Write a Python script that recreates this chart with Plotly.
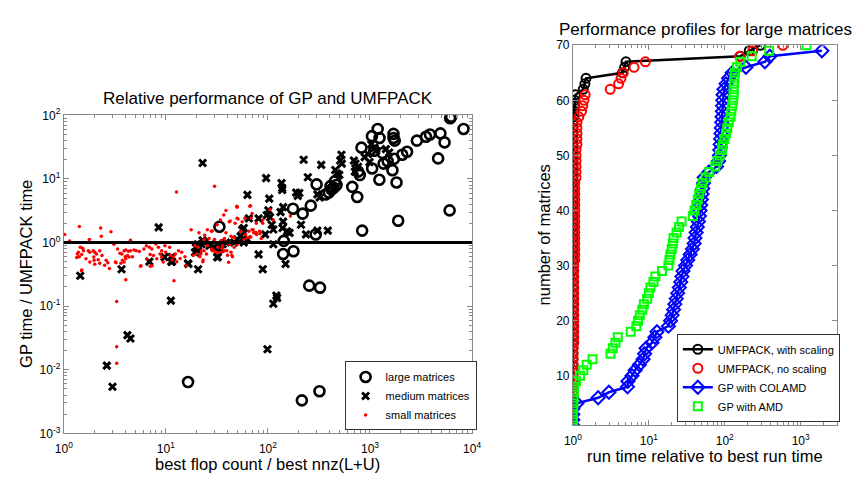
import plotly.graph_objects as go

# ---------------- Left chart data ----------------
large_x = [6240, 6100, 8260, 1190, 1700, 1700, 1045, 1240, 1750, 2880, 3540, 3870, 4900, 5380,
           4650, 825, 1100, 1330, 2070, 2310, 1720, 1360, 1490, 1050, 1660, 767, 795, 1236, 1820,
           670, 750, 454, 441, 395, 367, 420, 470, 410, 300, 263, 219, 176, 294, 838, 1890, 6030,
           143, 141, 178, 254, 324, 33.5, 16.5, 215, 320]
large_y = [95, 90, 61, 61, 51, 44, 47, 44, 40, 40, 46, 50, 52, 37.5,
           21, 31, 27.7, 25.5, 24, 26.7, 20.7, 17.4, 19, 14.6, 13.7, 13, 11.5, 9.7, 8.8,
           7.5, 5.2, 9.2, 7.25, 6.1, 5.7, 6.8, 8.0, 7.7, 8.2, 3.8, 2.85, 3.4, 1.34, 1.54, 2.2, 3.2,
           1.06, 0.66, 0.73, 0.21, 0.195, 1.77, 0.0064, 0.0033, 0.0046]

medium_x = [1.45, 3.68, 6.9, 11.3, 16.5, 20.7, 89, 149, 11.2, 113, 123, 4.2, 4.5, 99, 2.64, 3.0,
            22.9, 8.5, 9.7, 11.4, 19.7, 20.5, 22.9, 31.8, 34.3,
            63, 81, 96,
            224, 333, 136, 138, 138, 189, 203, 196, 246, 305, 457, 474, 500, 525, 511, 530,
            695, 721, 765, 711, 887, 955, 990, 1028, 1107, 1148, 1432, 1542,
            321, 101, 105, 109, 113, 94, 113, 141, 139, 154, 163, 133, 141, 211, 236, 305, 386, 121,
            65, 81, 97.5, 103, 58, 56, 54, 63, 58, 50, 46.7, 38.8, 36, 32.3, 30, 26.8, 24, 22.3,
            20, 20.7, 19.3, 11.5, 16.6, 32.3]
medium_y = [0.30, 0.38, 0.50, 0.50, 0.47, 0.38, 0.38, 0.46, 0.122, 0.109, 0.134, 0.035, 0.031, 0.021, 0.0116, 0.0054,
            17.8, 1.73, 0.59, 0.59, 0.84, 0.94, 1.08, 0.59, 0.79,
            5.6, 0.65, 10.3,
            20, 16.6, 8.6, 7.2, 6.7, 6.1, 6.0, 5.4, 10.6, 5.7, 13.8, 12.2, 11.6, 24, 19.5, 17.4,
            19.5, 17.4, 15.5, 13, 22, 24.6, 18.4, 35, 31, 27.7, 29.4, 26,
            5.1, 3.2, 2.5, 1.9, 1.6, 1.34, 0.94, 2.13, 1.69, 1.5, 1.42, 3.0, 3.6, 1.9, 1.34, 1.54, 1.54, 0.146,
            2.4, 2.4, 2.7, 4.9, 1.69, 1.59, 1.26, 1.12, 1.0, 1.12, 1.0, 1.0, 0.94, 0.89, 0.84, 0.89, 1.0, 0.94,
            0.84, 0.745, 0.70, 0.50, 0.46, 0.59]

small_x = [1.02, 1.14, 1.42, 2.3, 2.33, 2.9, 1.78, 4.5, 3.1,
           1.45, 1.53, 1.39, 1.36, 1.34, 1.42, 1.5, 1.56, 1.74, 1.8, 1.94, 2.01, 2.09, 2.25, 2.37,
           1.97, 1.98, 2.01, 1.8, 1.65, 2.17, 2.25, 2.6, 2.7, 2.8, 2.51, 3.25, 3.2, 3.37, 3.55,
           3.71, 3.9, 4.05, 4.3, 4.5, 4.87, 5.13, 4.0, 4.2, 4.36, 3.76, 3.9, 3.63, 4.05, 4.7, 5.64,
           6.44, 7.3, 7.03, 7.57, 8.46, 9.1, 8.77, 9.1, 8.15, 9.45, 7.03, 9.8, 10.9, 1.5, 4.05,
           12.7, 30, 12, 3.3, 3.3, 3.3, 1.49, 7.3, 5.7, 15.8, 23,
           49.6, 66.5, 38.8, 36.9, 51, 56, 68.5, 89, 41.8, 27.9, 21.1, 17.7, 24, 38.8, 43.5, 47,
           30, 35, 37.5, 54, 60.5, 65, 70, 75, 63, 58.5, 68, 77.5, 83.5,
           19.3, 20.7, 22.3, 20, 18.7, 21.5, 23.2, 25, 27.9, 30, 32.3, 35, 37.5, 40.3, 43.5, 45,
           41.8, 36, 46.8, 50,
           9.95, 11.1, 11.9, 12.4, 13.3, 13.8, 14.3, 12.8, 15.4, 11.5,
           50, 70, 67.5, 50, 72.6, 105, 113, 166, 54,
           25.5, 28.5, 31.8, 34.3, 42.7, 59.5, 47.7, 77, 89, 23.7, 26.5, 29.5, 38.3, 46,
           25.5, 28.5, 31.8, 35.6, 39.6, 44.4, 23.7, 22, 41.2, 77, 83, 71.6, 66.5, 86,
           6.1, 6.9, 5.5, 6.5, 8.0]
small_y = [1.34, 1.06, 1.79, 1.69, 1.26, 1.47, 1.12, 1.09, 0.94,
           0.84, 0.81, 0.70, 0.66, 0.58, 0.60, 0.65, 0.745, 0.745, 0.70, 0.745, 0.70, 0.66, 0.745, 0.625,
           0.59, 0.525, 0.457, 0.495, 0.556, 0.537, 0.47, 0.525, 0.48, 0.39, 0.44, 0.48, 0.495, 0.79, 0.68,
           0.66, 0.745, 0.76, 0.73, 0.745, 0.76, 0.745, 0.60, 0.625, 0.59, 0.525, 0.495, 0.47, 0.556, 0.60, 0.425,
           0.89, 0.79, 0.65, 0.625, 0.84, 0.745, 0.66, 0.59, 0.556, 0.495, 0.425, 0.89, 0.84, 0.37, 0.26,
           6.2, 7.7, 0.25, 0.118, 0.023, 0.0126, 0.36, 0.43, 0.43, 0.43, 0.5,
           3.7, 3.7, 3.2, 2.7, 2.34, 2.13, 2.4, 2.0, 2.13, 1.5, 1.42, 1.59, 1.3, 1.42, 1.26, 1.19,
           1.12, 1.08, 1.16, 1.5, 1.34, 1.5, 1.59, 1.42, 1.19, 1.12, 1.22, 1.34, 1.37,
           0.89, 0.84, 0.745, 0.66, 0.63, 0.6, 0.53, 0.66, 0.79, 0.73, 0.84, 0.70, 0.745, 0.63, 0.70, 0.6,
           0.94, 0.89, 0.84, 0.94,
           0.70, 0.63, 0.6, 0.66, 0.745, 0.56, 0.70, 0.5, 0.6, 0.53,
           3.6, 2.85, 3.8, 2.4, 1.42, 3.3, 2.26, 2.6, 1.47,
           1.59, 1.52, 1.9, 2.25, 2.18, 2.4, 2.0, 2.0, 2.25, 1.12, 1.16, 1.06, 1.03, 1.21,
           0.89, 0.745, 0.70, 0.81, 0.745, 0.625, 0.745, 0.66, 0.49, 1.42, 1.5, 1.59, 1.21, 1.16,
           0.79, 0.84, 0.72, 0.55, 0.95]

reference_ratio = 1.0

# ---------------- Right chart data ----------------
n_matrices = [1, 2, 3, 4, 5, 6, 7, 8, 9, 10, 11, 12, 13, 14, 15, 16, 17, 18, 19, 20,
              21, 22, 23, 24, 25, 26, 27, 28, 29, 30, 31, 32, 33, 34, 35, 36, 37, 38, 39, 40,
              41, 42, 43, 44, 45, 46, 47, 48, 49, 50, 51, 52, 53, 54, 55, 56, 57, 58, 59, 60,
              61, 62, 63, 64, 65, 66, 67, 68, 69, 70]

umf_scaling = [1.0] * 56 + [1.03, 1.04, 1.05, 1.06, 1.08, 1.37, 1.44, 1.49, 4.5, 4.8, 5.0, 160, 210, 295]

umf_noscaling = ([1.01] * 15 + [1.03] * 15 + [1.06] * 15 + [1.10] * 6 + [1.13] * 5 +
                 [1.2, 1.3, 1.35, 1.4, 1.45, 3.1, 4.0, 4.3, 4.6, 6.4, 9.0, 157, 233, 582])

gp_colamd = [1.0, 1.0, 1.0, 1.0, 1.13, 2.15, 2.98, 5.24, 5.3, 6.0, 6.6, 7.5, 8.4, 8.8, 9.2,
             11, 12, 12.8, 18.1, 19.3, 20.3, 21.2, 22, 23, 24, 25.2, 26.3, 27.3, 28.2, 30.5,
             32.5, 35, 37.5, 39.5, 40.5, 42, 43.5, 45, 46.4, 47.3, 48.3, 49.2, 50.3, 51.3, 52.5,
             53.5, 62, 78, 83, 85, 86, 87, 88, 89, 90, 91, 92, 93, 93.5, 94, 95, 97.5, 104,
             112, 125, 190, 337, 392, 1900]
gp_colamd_n = n_matrices[:69]

gp_amd = [1.0, 1.0, 1.0, 1.01, 1.01, 1.02, 1.03, 1.04, 1.1, 1.24, 1.37, 1.52, 1.81, 3.13,
          3.35, 3.63, 3.9, 5.78, 6.85, 7.2, 7.6, 8.2, 8.6, 9.5, 10.0, 10.5, 11.5, 12.2, 14.9,
          18.1, 18.7, 19.2, 20, 20.7, 21.2, 23.2, 25, 27, 38, 40, 42, 44, 46, 48.5, 51, 56,
          62.4, 75, 80, 86, 92, 95, 99, 104, 108, 113, 119, 122, 125, 128, 131, 131, 132, 134,
          136, 145, 160, 226, 384, 1190]

FONT = "Liberation Sans, Arial, sans-serif"
AXC = "#8a8a8a"

fig = go.Figure()

# left chart traces
fig.add_trace(go.Scatter(x=large_x, y=large_y, mode="markers", name="large matrices",
                         marker=dict(symbol="circle-open", size=10, color="black",
                                     line=dict(width=2.6, color="black")),
                         xaxis="x", yaxis="y", legend="legend"))
fig.add_trace(go.Scatter(x=medium_x, y=medium_y, mode="markers", name="medium matrices",
                         marker=dict(symbol="x-thin-open", size=7, color="black",
                                     line=dict(width=3, color="black")),
                         xaxis="x", yaxis="y", legend="legend"))
fig.add_trace(go.Scatter(x=small_x, y=small_y, mode="markers", name="small matrices",
                         marker=dict(symbol="circle", size=3.5, color="#ff0000", line=dict(width=0)),
                         xaxis="x", yaxis="y", legend="legend"))

# right chart traces
fig.add_trace(go.Scatter(x=umf_scaling, y=n_matrices, mode="lines+markers", name="UMFPACK, with scaling",
                         line=dict(color="black", width=2.5),
                         marker=dict(symbol="circle-open", size=9, color="black", line=dict(width=2, color="black")),
                         xaxis="x2", yaxis="y2", legend="legend2"))
fig.add_trace(go.Scatter(x=umf_noscaling, y=n_matrices, mode="markers", name="UMFPACK, no scaling",
                         marker=dict(symbol="circle-open", size=9, color="#ff0000", line=dict(width=2, color="#ff0000")),
                         xaxis="x2", yaxis="y2", legend="legend2"))
fig.add_trace(go.Scatter(x=gp_colamd, y=gp_colamd_n, mode="lines+markers", name="GP with COLAMD",
                         line=dict(color="#0000ff", width=2.5),
                         marker=dict(symbol="diamond-open", size=10, color="#0000ff", line=dict(width=2, color="#0000ff")),
                         xaxis="x2", yaxis="y2", legend="legend2"))
fig.add_trace(go.Scatter(x=gp_amd, y=n_matrices, mode="markers", name="GP with AMD",
                         marker=dict(symbol="square-open", size=8, color="#00ff00", line=dict(width=2, color="#00ff00")),
                         xaxis="x2", yaxis="y2", legend="legend2"))

fig.add_shape(type="line", xref="x domain", x0=0, x1=1, yref="y", y0=reference_ratio, y1=reference_ratio,
              line=dict(color="black", width=3), layer="above")


def minor_vals(lo, hi):
    vals = []
    for e in range(lo, hi):
        for m in range(2, 10):
            vals.append(m * 10 ** e)
    return vals


axis_common = dict(showline=True, linecolor=AXC, linewidth=1, mirror="ticks", ticks="inside",
                   ticklen=5, tickcolor=AXC, showgrid=False, zeroline=False,
                   tickfont=dict(family=FONT, size=12, color="black"))

fig.update_layout(
    width=857, height=479, margin=dict(l=0, r=0, t=0, b=0),
    paper_bgcolor="white", plot_bgcolor="white",
    font=dict(family=FONT, color="black"),
    xaxis=dict(type="log", domain=[0.0653, 0.5519], range=[0, 4], anchor="y",
               tickmode="array", tickvals=[1, 10, 100, 1000, 10000],
               ticktext=["10<sup>0</sup>", "10<sup>1</sup>", "10<sup>2</sup>", "10<sup>3</sup>", "10<sup>4</sup>"],
               ticklabelstandoff=4,
               minor=dict(ticks="inside", ticklen=3, tickcolor=AXC, tickmode="array", tickvals=minor_vals(0, 4)),
               **axis_common),
    yaxis=dict(type="log", domain=[0.0835, 0.7704], range=[-3, 2], anchor="x",
               tickmode="array", tickvals=[0.001, 0.01, 0.1, 1, 10, 100],
               ticktext=["10<sup>-3</sup>", "10<sup>-2</sup>", "10<sup>-1</sup>", "10<sup>0</sup>", "10<sup>1</sup>", "10<sup>2</sup>"],
               minor=dict(ticks="inside", ticklen=3, tickcolor=AXC, tickmode="array", tickvals=minor_vals(-3, 2)),
               **axis_common),
    xaxis2=dict(type="log", domain=[0.6721, 0.9868], range=[0, 3.477], anchor="y2",
                tickmode="array", tickvals=[1, 10, 100, 1000],
                ticktext=["10<sup>0</sup>", "10<sup>1</sup>", "10<sup>2</sup>", "10<sup>3</sup>"],
                ticklabelstandoff=4,
                minor=dict(ticks="inside", ticklen=3, tickcolor=AXC, tickmode="array", tickvals=minor_vals(0, 4)),
                **axis_common),
    yaxis2=dict(domain=[0.1008, 0.9217], range=[1, 70], anchor="x2",
                tickmode="array", tickvals=[10, 20, 30, 40, 50, 60, 70],
                **axis_common),
    legend=dict(x=0.4, y=(479 - 436) / 479, xanchor="left", yanchor="bottom", bgcolor="white",
                bordercolor="#333333", borderwidth=1, font=dict(family=FONT, size=11, color="black"),
                tracegroupgap=0, itemwidth=30),
    legend2=dict(x=0.796, y=(479 - 427) / 479, xanchor="left", yanchor="bottom", bgcolor="white",
                 bordercolor="#333333", borderwidth=1, font=dict(family=FONT, size=11, color="black"),
                 tracegroupgap=0, itemwidth=30),
    annotations=[
        dict(text="Relative performance of GP and UMFPACK", x=264.5 / 857, y=1 - 93 / 479,
             xref="paper", yref="paper", showarrow=False, xanchor="center", yanchor="middle",
             font=dict(family=FONT, size=17, color="black")),
        dict(text="Performance profiles for large matrices", x=711 / 857, y=1 - 20.7 / 479,
             xref="paper", yref="paper", showarrow=False, xanchor="center", yanchor="middle",
             font=dict(family=FONT, size=17, color="black")),
        dict(text="GP time / UMFPACK time", x=18 / 857, y=1 - 274.5 / 479, textangle=-90,
             xref="paper", yref="paper", showarrow=False, xanchor="center", yanchor="middle",
             font=dict(family=FONT, size=16.5, color="black")),
        dict(text="best flop count / best nnz(L+U)", x=263.7 / 857, y=1 - 470.7 / 479,
             xref="paper", yref="paper", showarrow=False, xanchor="center", yanchor="middle",
             font=dict(family=FONT, size=16.5, color="black")),
        dict(text="number of matrices", x=546.7 / 857, y=1 - 234 / 479, textangle=-90,
             xref="paper", yref="paper", showarrow=False, xanchor="center", yanchor="middle",
             font=dict(family=FONT, size=16.5, color="black")),
        dict(text="run time relative to best run time", x=711 / 857, y=1 - 462.7 / 479,
             xref="paper", yref="paper", showarrow=False, xanchor="center", yanchor="middle",
             font=dict(family=FONT, size=16.5, color="black")),
    ],
)

fig.write_html("out.html")
